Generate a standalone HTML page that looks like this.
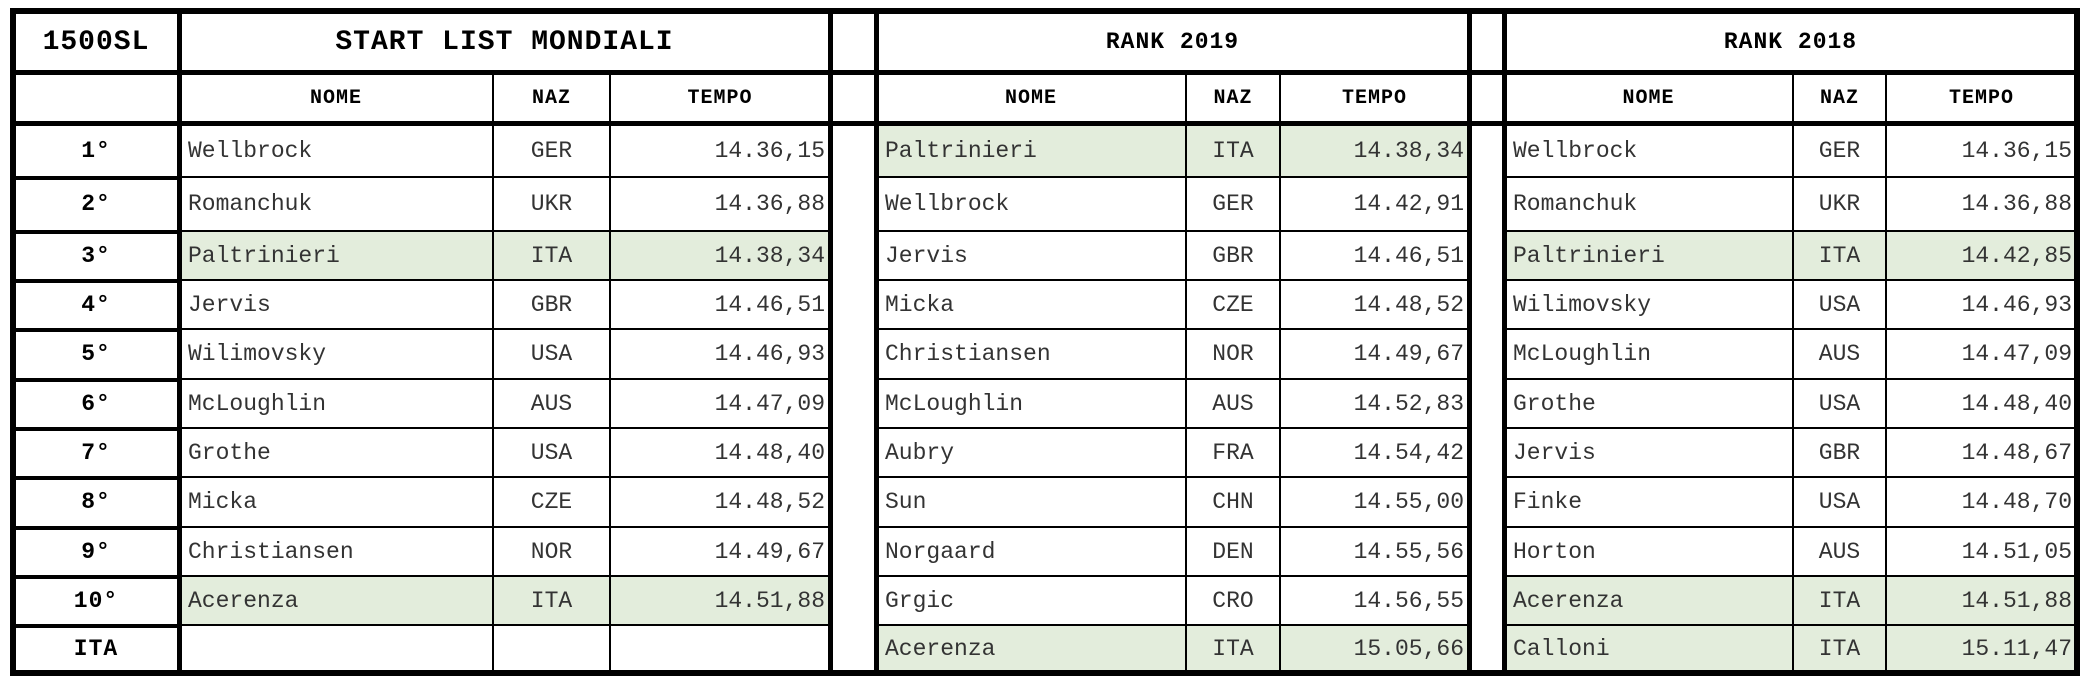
<!DOCTYPE html>
<html><head><meta charset="utf-8"><style>
body{margin:0;width:2090px;height:686px;background:#fff;position:relative;overflow:hidden;font-family:"Liberation Mono",monospace;}
.c{position:absolute;box-sizing:border-box;display:flex;align-items:center;white-space:nowrap;color:#333;font-size:23px;}
.l{position:absolute;background:#000;}
</style></head><body>
<script>
const ranks=["1°","2°","3°","4°","5°","6°","7°","8°","9°","10°","ITA"];
const startNames=["Wellbrock","Romanchuk","Paltrinieri","Jervis","Wilimovsky","McLoughlin","Grothe","Micka","Christiansen","Acerenza",""];
const startNaz=["GER","UKR","ITA","GBR","USA","AUS","USA","CZE","NOR","ITA",""];
const startTime=["14.36,15","14.36,88","14.38,34","14.46,51","14.46,93","14.47,09","14.48,40","14.48,52","14.49,67","14.51,88",""];
const r19Names=["Paltrinieri","Wellbrock","Jervis","Micka","Christiansen","McLoughlin","Aubry","Sun","Norgaard","Grgic","Acerenza"];
const r19Naz=["ITA","GER","GBR","CZE","NOR","AUS","FRA","CHN","DEN","CRO","ITA"];
const r19Time=["14.38,34","14.42,91","14.46,51","14.48,52","14.49,67","14.52,83","14.54,42","14.55,00","14.55,56","14.56,55","15.05,66"];
const r18Names=["Wellbrock","Romanchuk","Paltrinieri","Wilimovsky","McLoughlin","Grothe","Jervis","Finke","Horton","Acerenza","Calloni"];
const r18Naz=["GER","UKR","ITA","USA","AUS","USA","GBR","USA","AUS","ITA","ITA"];
const r18Time=["14.36,15","14.36,88","14.42,85","14.46,93","14.47,09","14.48,40","14.48,67","14.48,70","14.51,05","14.51,88","15.11,47"];

const ys=[124,177,231,280,329,379,428,477,527,576,625,673];
const secs=[
 {x:[179,493,610,830],title:"START LIST MONDIALI",names:startNames,naz:startNaz,time:startTime,id:"start-list"},
 {x:[876,1186,1280,1469],title:"RANK 2019",names:r19Names,naz:r19Naz,time:r19Time,id:"rank-2019"},
 {x:[1504,1793,1886,2077],title:"RANK 2018",names:r18Names,naz:r18Naz,time:r18Time,id:"rank-2018"}
];
const HL="#e3eddc";
function cell(x,y,w,h,txt,opts){
 const d=document.createElement('div');
 d.className='c';
 d.style.left=x+'px';d.style.top=y+'px';d.style.width=w+'px';d.style.height=h+'px';
 d.style.border='1px solid #000';
 d.style.justifyContent=opts.j||'center';
 if(opts.pad)d.style.padding=opts.pad;
 if(opts.bg)d.style.background=opts.bg;
 if(opts.b){d.style.fontWeight='bold';d.style.color='#000';d.style.letterSpacing='1px';}
 if(opts.fs)d.style.fontSize=opts.fs+'px';
 d.textContent=txt;
 document.body.appendChild(d);
 return d;
}
function line(x,y,w,h){
 const d=document.createElement('div');
 d.className='l';
 
 
 d.style.left=x+'px';d.style.top=y+'px';d.style.width=w+'px';d.style.height=h+'px';
 document.body.appendChild(d);
}
let e=cell(13,11,166,62,"1500SL",{b:1,fs:28});


e=cell(13,73,166,51,"",{});


ranks.forEach((r,i)=>{
 const c=cell(13,ys[i],166,ys[i+1]-ys[i],r,{b:1,fs:23});
 
 
});
[[830,876],[1469,1504]].forEach(g=>{
 const c=cell(g[0],11,g[1]-g[0],662,"",{});
 
 
});
secs.forEach(s=>{
 const x=s.x;
 let t=cell(x[0],11,x[3]-x[0],62,s.title,{b:1,fs:s.id==="start-list"?28:23});
 
 
 const hd=["NOME","NAZ","TEMPO"];
 hd.forEach((h,k)=>{
  const c=cell(x[k],73,x[k+1]-x[k],51,h,{b:1,fs:20});
  
  
 });
 for(let i=0;i<11;i++){
  const y=ys[i],h=ys[i+1]-ys[i];
  const bg=(s.naz[i]==="ITA")?HL:null;
  let c=cell(x[0],y,x[1]-x[0],h,s.names[i],{j:'flex-start',pad:'0 0 0 8px',bg:bg});
  
  
  c=cell(x[1],y,x[2]-x[1],h,s.naz[i],{bg:bg});
  
  
  c=cell(x[2],y,x[3]-x[2],h,s.time[i],{j:'flex-end',pad:'0 4px 0 0',bg:bg});
  
  
 }
});
line(10,8,2070,6);line(10,670,2070,6);line(10,8,6,668);line(2074,8,6,668);
[177,828,874,1467,1502].forEach(x=>line(x,8,5,668));
line(10,70,2070,5);line(10,121,2070,5);
ys.slice(1,-1).forEach(y=>{line(10,y-1,172,4);});
</script>
</body></html>
